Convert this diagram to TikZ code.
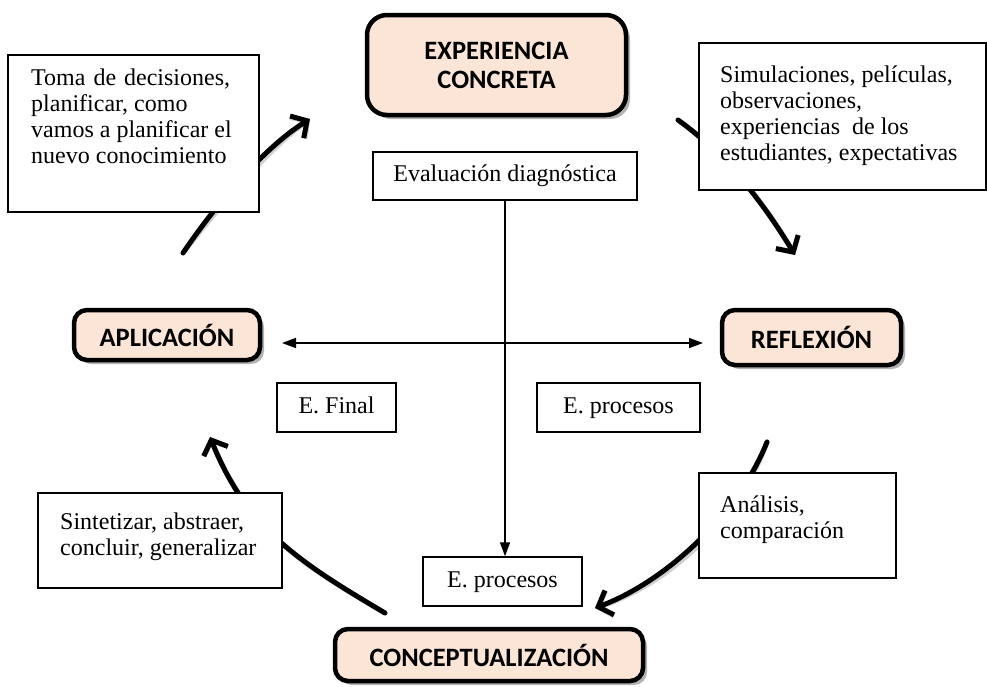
\documentclass[tikz,border=0pt]{standalone}
\usepackage{fontspec}
\setmainfont{Liberation Serif}
\newfontfamily\calibrifont{Carlito}
\usetikzlibrary{arrows.meta,shadows}
\definecolor{peach}{RGB}{251,229,214}
\begin{document}
\begin{tikzpicture}[x=1pt,y=-1pt,
  titlebox/.style={draw=black, line width=4.5pt, fill=peach, rounded corners=13pt,
    font=\calibrifont\bfseries\fontsize{26.5}{29}\selectfont, align=center, inner sep=0pt,
    drop shadow={shadow xshift=4pt, shadow yshift=-4pt, opacity=0.3, fill=black}},
  plainbox/.style={draw=black, line width=1.5pt, fill=white, inner sep=0pt,
    text height=16pt, text depth=5pt, font=\fontsize{24}{26}\selectfont},
  plaintext/.style={inner sep=0pt, align=left, anchor=west, font=\fontsize{24}{26}\selectfont},
  thinarrow/.style={line width=1.5pt, {Triangle[length=14pt,width=10pt]}-{Triangle[length=14pt,width=10pt]}},
  downarrow/.style={line width=1.5pt, -{Triangle[length=14pt,width=10pt]}},
  arc/.style={line width=5pt, line cap=round, -{Straight Barb[length=12pt,width=26pt]}},
  arcshadow/.style={arc, draw=black, opacity=0.18, xshift=3pt, yshift=-3pt}
]
\useasboundingbox (0,0) rectangle (987,686);

% arc end points
\coordinate (a1s) at (183,253); \coordinate (a1e) at (310,119);
\coordinate (a2s) at (678,120); \coordinate (a2e) at (795,255);
\coordinate (a3s) at (767,442); \coordinate (a3e) at (595,608);
\coordinate (a4s) at (385,613); \coordinate (a4e) at (210,437);

% arc shadows
\draw[arcshadow] (a1s) .. controls (214,207) and (263,148) .. (a1e);
\draw[arcshadow] (a2s) .. controls (727,155) and (764,204) .. (a2e);
\draw[arcshadow] (a3s) .. controls (738,515) and (665,582) .. (a3e);
\draw[arcshadow] (a4s) .. controls (299,562) and (247,529) .. (a4e);
% arcs
\draw[arc] (a1s) .. controls (214,207) and (263,148) .. (a1e);
\draw[arc] (a2s) .. controls (727,155) and (764,204) .. (a2e);
\draw[arc] (a3s) .. controls (738,515) and (665,582) .. (a3e);
\draw[arc] (a4s) .. controls (299,562) and (247,529) .. (a4e);

% plain boxes
\node[plainbox, minimum width=251, minimum height=157] (toma) at (133.5,133.5) {};
\node[plaintext] (tomat) at (31,116) {Toma\hspace{2pt} de\hspace{2pt} decisiones,\\planificar, como\\vamos a planificar el\\nuevo conocimiento};

\node[plainbox, minimum width=287, minimum height=147] (simu) at (842.5,116.5) {};
\node[plaintext] (simut) at (720,116) {Simulaciones, películas,\\observaciones,\\experiencias\ \ de los\\estudiantes, expectativas};

\node[plainbox, minimum width=244, minimum height=95] (sint) at (160,540.5) {};
\node[plaintext] (sintt) at (60,537) {Sintetizar, abstraer,\\concluir, generalizar};

\node[plainbox, minimum width=197, minimum height=105] (anal) at (797.5,525.5) {};
\node[plaintext] (analt) at (720,519.5) {Análisis,\\comparación};

\node[plainbox, minimum width=264, minimum height=48] (eval) at (505,176) {Evaluación diagnóstica};
\node[plainbox, minimum width=119, minimum height=49] (efin) at (336.5,407.5) {E. Final};
\node[plainbox, minimum width=163, minimum height=49] (eproc1) at (618.5,407.5) {E. procesos};
\node[plainbox, minimum width=159, minimum height=49] (eproc2) at (502.5,581.5) {E. procesos};

% title boxes
\node[titlebox, rounded corners=20pt, minimum width=259, minimum height=100] (exp) at (496.5,65) {EXPERIENCIA\\CONCRETA};
\node[titlebox, minimum width=186, minimum height=50] (aplic) at (167,335) {APLICACIÓN};
\node[titlebox, minimum width=179, minimum height=55] (refl) at (811.5,337.5) {REFLEXIÓN};
\node[titlebox, minimum width=308, minimum height=52] (conc) at (489,655) {CONCEPTUALIZACIÓN};

% thin connectors
\coordinate (hl) at (282,343);
\coordinate (hr) at (703,343);
\draw[thinarrow] (hl) -- (hr);
\draw[downarrow] (eval.south) -- (eval.south |- eproc2.north);
\end{tikzpicture}
\end{document}
